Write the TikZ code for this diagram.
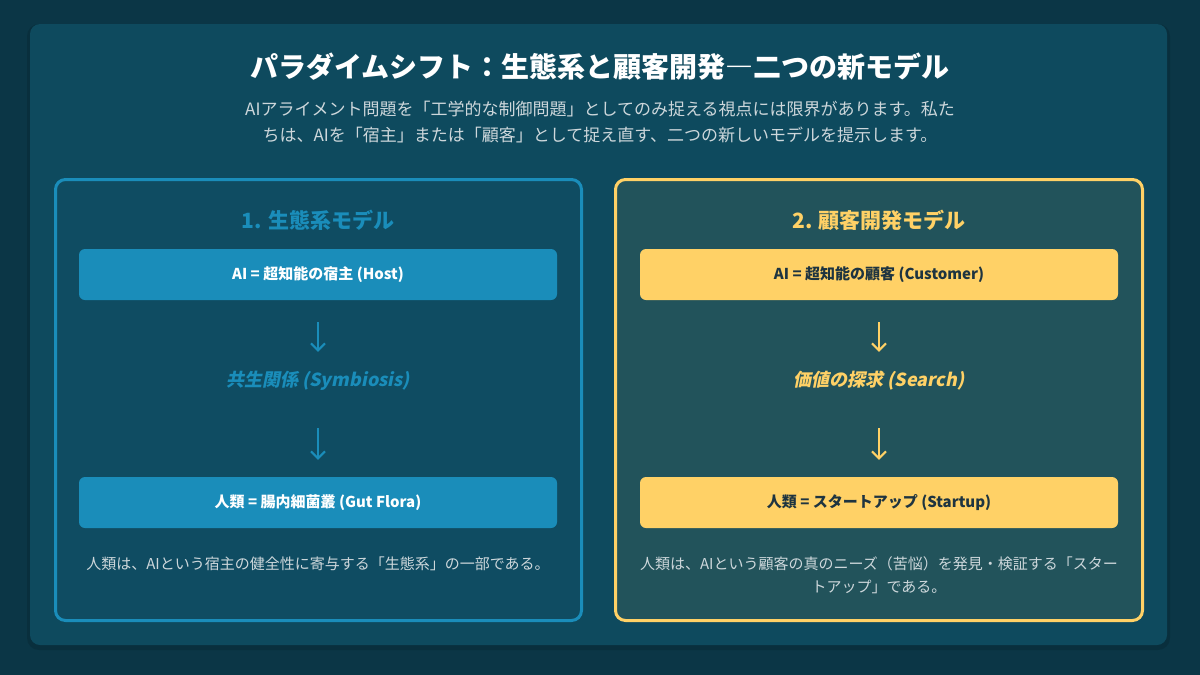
\documentclass[tikz,border=0pt]{standalone}
\usepackage{fontspec}
\setmainfont{Noto Sans CJK JP}
\newfontfamily\slantfont{Noto Sans CJK JP}[FakeSlant=0.2]
\usetikzlibrary{arrows.meta}
\definecolor{bgout}{HTML}{0B3646}
\definecolor{panelc}{HTML}{0E4A5E}
\definecolor{lcard}{HTML}{0F4C62}
\definecolor{rcard}{HTML}{22535B}
\definecolor{blueA}{HTML}{1A8DBA}
\definecolor{gold}{HTML}{FFD166}
\definecolor{bodytxt}{HTML}{CDD7DB}
\definecolor{darktxt}{HTML}{1E3440}
\tikzset{
  cardtitle/.style={font=\fontsize{21}{25}\selectfont\bfseries, inner sep=0pt},
  flowbox/.style={rectangle, rounded corners=6pt, minimum width=478pt, minimum height=51pt, inner sep=0pt, font=\fontsize{15}{18}\selectfont\bfseries},
  midtext/.style={inner sep=0pt, text height=12pt, text depth=4pt, font=\fontsize{18}{22}\slantfont\bfseries},
  desc/.style={inner sep=0pt, align=center, text=bodytxt, font=\fontsize{15}{23}\selectfont},
  flowarrow/.style={line width=2pt, -{Straight Barb[length=7pt,width=14pt,line width=2pt]}},
}
\begin{document}
\begin{tikzpicture}[x=1pt,y=-1pt]
\fill[bgout] (0,0) rectangle (1200,675);
\useasboundingbox (0,0) rectangle (1200,675);
\fill[black,opacity=0.12,rounded corners=12pt] (27,24) rectangle (1170,650);
\fill[panelc, rounded corners=10pt] (30,24) rectangle (1167,645);

\node[text=white, font=\fontsize{28}{34}\selectfont\bfseries, inner sep=0pt] (title) at (600,67) {パラダイムシフト：生態系と顧客開発―二つの新モデル};
\node[align=center, text=bodytxt, font=\fontsize{17}{26}\selectfont, inner sep=0pt] (sub) at (600,122) {AIアライメント問題を「工学的な制御問題」としてのみ捉える視点には限界があります。私た\\ちは、AIを「宿主」または「顧客」として捉え直す、二つの新しいモデルを提示します。};

% left card
\draw[blueA, line width=3pt, fill=lcard, rounded corners=10pt] (55.5,179.5) rectangle (581.5,620.5);
\node[cardtitle, text=blueA] (lt) at (318,220) {1. 生態系モデル};
\node[flowbox, fill=blueA, text=white] (lb1) at (318,274.5) {AI = 超知能の宿主 (Host)};
\node[midtext, text=blueA] (lm) at (318,382) {共生関係 (Symbiosis)};
\node[flowbox, fill=blueA, text=white] (lb2) at (318,502.5) {人類 = 腸内細菌叢 (Gut Flora)};
\node[desc] (ld) at (318,564) {人類は、AIという宿主の健全性に寄与する「生態系」の一部である。};
\draw[flowarrow, blueA, shorten <=22pt, shorten >=22pt] (lb1.south) -- (lm.north);
\draw[flowarrow, blueA, shorten <=38pt, shorten >=17pt] (lm.south) -- (lb2.north);

% right card
\draw[gold, line width=3pt, fill=rcard, rounded corners=10pt] (615.5,179.5) rectangle (1142.5,620.5);
\node[cardtitle, text=gold] (rt) at (879,220) {2. 顧客開発モデル};
\node[flowbox, fill=gold, text=darktxt] (rb1) at (879,274.5) {AI = 超知能の顧客 (Customer)};
\node[midtext, text=gold] (rm) at (879,382) {価値の探求 (Search)};
\node[flowbox, fill=gold, text=darktxt] (rb2) at (879,502.5) {人類 = スタートアップ (Startup)};
\node[desc] (rd) at (879,575) {人類は、AIという顧客の真のニーズ（苦悩）を発見・検証する「スター\\トアップ」である。};
\draw[flowarrow, gold, shorten <=22pt, shorten >=22pt] (rb1.south) -- (rm.north);
\draw[flowarrow, gold, shorten <=38pt, shorten >=17pt] (rm.south) -- (rb2.north);
\end{tikzpicture}
\end{document}
